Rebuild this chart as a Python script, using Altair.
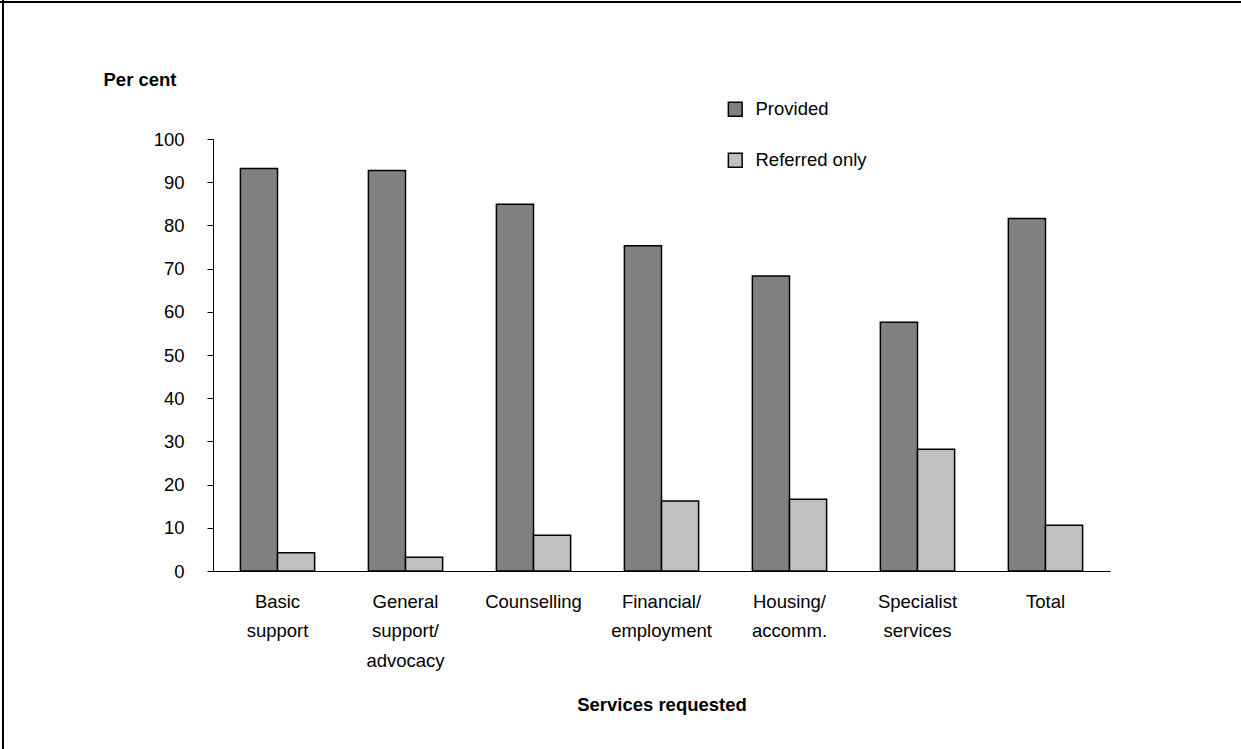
import altair as alt
import pandas as pd

# Services requested and share of requests provided vs referred only (per cent)
categories = [
    "Basic\nsupport",
    "General\nsupport/\nadvocacy",
    "Counselling",
    "Financial/\nemployment",
    "Housing/\naccomm.",
    "Specialist\nservices",
    "Total",
]
provided = [93.2, 92.7, 84.9, 75.3, 68.3, 57.6, 81.6]
referred_only = [4.2, 3.2, 8.3, 16.2, 16.6, 28.2, 10.6]

series = ["Provided", "Referred only"]
colors = ["#808080", "#c0c0c0"]

rows = []
for cat, p, r in zip(categories, provided, referred_only):
    rows.append({"service": cat, "status": "Provided", "pct": p})
    rows.append({"service": cat, "status": "Referred only", "pct": r})
df = pd.DataFrame(rows)

FONT = "Liberation Sans"
SIZE = 18.5

bars = alt.Chart(df).mark_bar(stroke="black", strokeWidth=1.5).encode(
    x=alt.X(
        "service:N",
        sort=categories,
        scale=alt.Scale(paddingInner=0.42, paddingOuter=0.214),
        axis=alt.Axis(
            title="Services requested",
            labelExpr="split(datum.label, '\\n')",
            labelAngle=0,
            labelFontSize=SIZE,
            labelLineHeight=29.5,
            labelPadding=21,
            labelColor="black",
            labelFont=FONT,
            ticks=False,
            domainColor="black",
            titleFontSize=SIZE,
            titleFontWeight="bold",
            titleFont=FONT,
            titleColor="black",
            titlePadding=26,
        ),
    ),
    xOffset=alt.XOffset("status:N", sort=series, scale=alt.Scale(paddingInner=0, paddingOuter=0)),
    y=alt.Y(
        "pct:Q",
        scale=alt.Scale(domain=[0, 100], nice=False),
        axis=alt.Axis(
            title="Per cent",
            values=list(range(0, 101, 10)),
            grid=False,
            tickSize=6,
            tickColor="black",
            domainColor="black",
            labelFontSize=SIZE,
            labelFont=FONT,
            labelColor="black",
            labelPadding=23,
            titleAngle=0,
            titleAlign="left",
            titleBaseline="middle",
            titleX=-110,
            titleY=-60,
            titleFontSize=SIZE,
            titleFontWeight="bold",
            titleFont=FONT,
            titleColor="black",
        ),
    ),
    color=alt.Color(
        "status:N",
        sort=series,
        scale=alt.Scale(domain=series, range=colors),
        legend=alt.Legend(
            title=None,
            orient="none",
            legendX=513,
            legendY=-39,
            symbolType="square",
            symbolSize=190,
            symbolStrokeColor="black",
            symbolStrokeWidth=1.5,
            symbolOpacity=1,
            labelFontSize=SIZE,
            labelFont=FONT,
            labelColor="black",
            labelOffset=11,
            rowPadding=30,
        ),
    ),
)

# Frame lines along the top and left edges of the page
frame_top = alt.Chart(df).mark_rule(color="black", strokeWidth=1.5).encode(
    x=alt.value(-213), x2=alt.value(1100), y=alt.value(-137)
)
frame_left = alt.Chart(df).mark_rule(color="black", strokeWidth=1.5).encode(
    x=alt.value(-210), y=alt.value(-139), y2=alt.value(620)
)

chart = (
    alt.layer(bars, frame_top, frame_left)
    .properties(
        width=897,
        height=432,
        autosize=alt.AutoSizeParams(type="none"),
        padding={"left": 213, "top": 139, "right": 131, "bottom": 178},
        background="white",
    )
    .configure_view(stroke=None)
)

chart.save("out.html", embed_options={"renderer": "svg", "actions": False})
